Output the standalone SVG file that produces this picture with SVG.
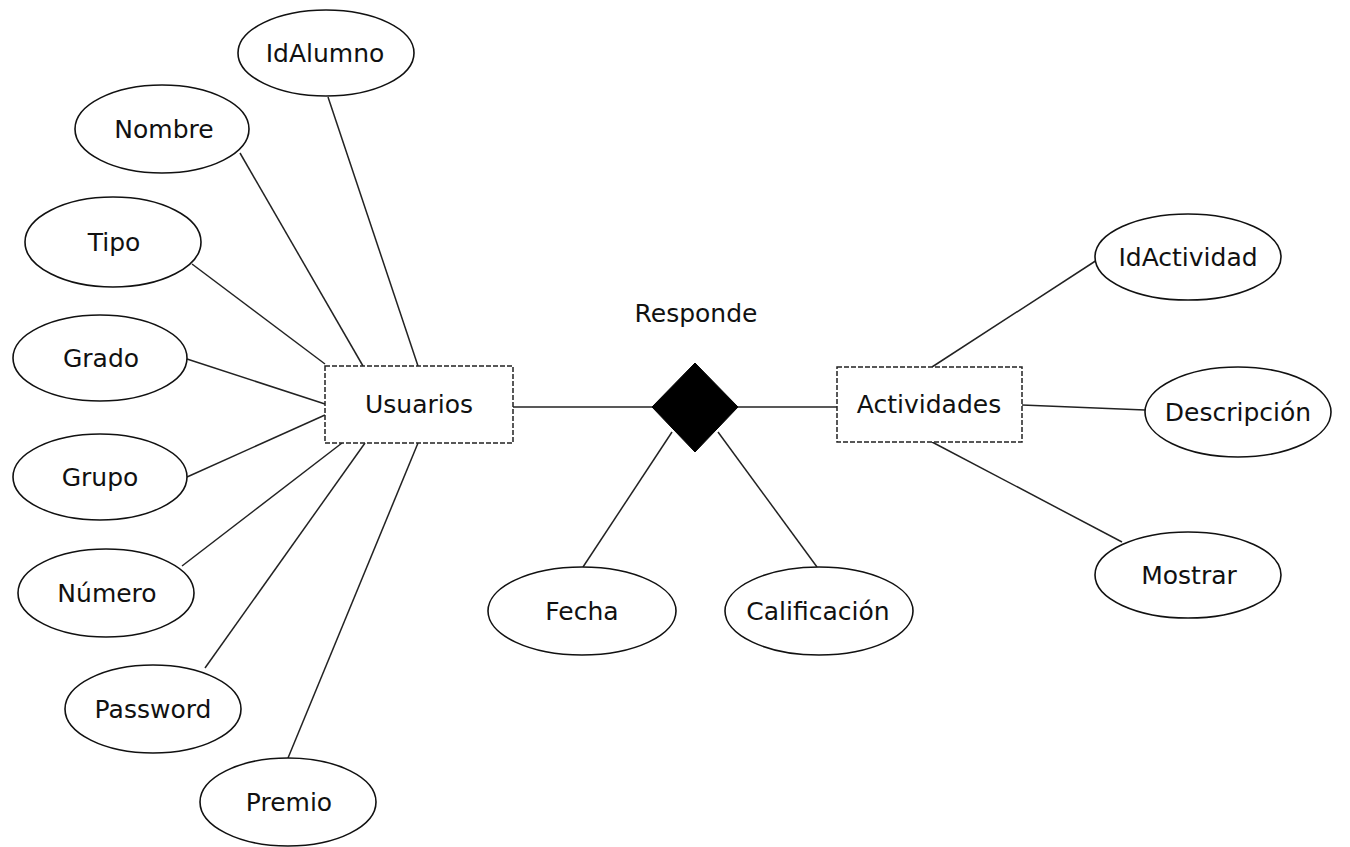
<svg xmlns="http://www.w3.org/2000/svg" width="1350" height="847" viewBox="0 0 1350 847">
<style>
.attr{fill:#fff;stroke:#111;stroke-width:1.6}
.ent{fill:#fff;stroke:#222;stroke-width:1.5;stroke-dasharray:5 2}
.rel{fill:#000;stroke:#000}
.ln{stroke:#222;stroke-width:1.5;fill:none}
text{font-family:"DejaVu Sans",Verdana,sans-serif;font-size:25px;fill:#111;text-anchor:middle}
</style>
<rect width="1350" height="847" fill="#fff"/>
<g id="connectors">
<line class="ln" x1="328" y1="97" x2="418" y2="366"/>
<line class="ln" x1="240" y1="153" x2="363" y2="366"/>
<line class="ln" x1="192" y1="264" x2="325" y2="364"/>
<line class="ln" x1="187" y1="359" x2="325" y2="404"/>
<line class="ln" x1="187" y1="477" x2="325" y2="415"/>
<line class="ln" x1="182" y1="566" x2="342" y2="443"/>
<line class="ln" x1="205" y1="668" x2="365" y2="443"/>
<line class="ln" x1="288" y1="758" x2="418" y2="443"/>
<line class="ln" x1="513" y1="407" x2="652" y2="407"/>
<line class="ln" x1="738" y1="407" x2="837" y2="407"/>
<line class="ln" x1="672" y1="432" x2="583" y2="567"/>
<line class="ln" x1="718" y1="432" x2="817" y2="567"/>
<line class="ln" x1="932" y1="367" x2="1097" y2="260"/>
<line class="ln" x1="1022" y1="405" x2="1145" y2="410"/>
<line class="ln" x1="932" y1="442" x2="1122" y2="542"/>
</g>
<g id="Usuarios"><rect class="ent" x="325" y="366" width="188" height="77"/><text x="419" y="413">Usuarios</text></g>
<g id="Actividades"><rect class="ent" x="837" y="367" width="185" height="75"/><text x="929" y="413">Actividades</text></g>
<g id="Responde"><polygon class="rel" points="695,363 738,407 695,452 652,407"/><text x="696" y="322">Responde</text></g>
<g id="IdAlumno"><ellipse class="attr" cx="326" cy="53" rx="88" ry="43"/><text x="325" y="62">IdAlumno</text></g>
<g id="Nombre"><ellipse class="attr" cx="162" cy="129" rx="87" ry="44"/><text x="164" y="138">Nombre</text></g>
<g id="Tipo"><ellipse class="attr" cx="113" cy="242" rx="88" ry="45"/><text x="114" y="251">Tipo</text></g>
<g id="Grado"><ellipse class="attr" cx="100" cy="358" rx="87" ry="43"/><text x="101" y="367">Grado</text></g>
<g id="Grupo"><ellipse class="attr" cx="100" cy="477" rx="87" ry="43"/><text x="100" y="486">Grupo</text></g>
<g id="Numero"><ellipse class="attr" cx="106" cy="593" rx="88" ry="44"/><text x="107" y="602">Número</text></g>
<g id="Password"><ellipse class="attr" cx="153" cy="709" rx="88" ry="44"/><text x="153" y="718">Password</text></g>
<g id="Premio"><ellipse class="attr" cx="288" cy="802" rx="88" ry="44"/><text x="289" y="811">Premio</text></g>
<g id="Fecha"><ellipse class="attr" cx="582" cy="611" rx="94" ry="44"/><text x="582" y="620">Fecha</text></g>
<g id="Calificacion"><ellipse class="attr" cx="819" cy="611" rx="94" ry="44"/><text x="818" y="620">Calificación</text></g>
<g id="IdActividad"><ellipse class="attr" cx="1188" cy="257" rx="93" ry="43"/><text x="1188" y="266">IdActividad</text></g>
<g id="Descripcion"><ellipse class="attr" cx="1238" cy="412" rx="93" ry="45"/><text x="1238" y="421">Descripción</text></g>
<g id="Mostrar"><ellipse class="attr" cx="1188" cy="575" rx="93" ry="43"/><text x="1189" y="584">Mostrar</text></g>
</svg>
